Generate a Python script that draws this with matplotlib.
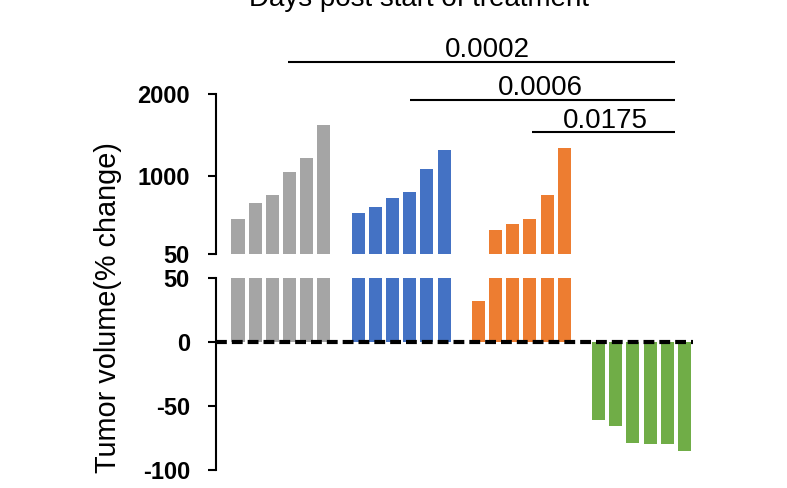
import matplotlib
matplotlib.use("Agg")
import matplotlib.pyplot as plt

plt.rcParams['font.family'] = ['Liberation Sans', 'DejaVu Sans']

# ---- data ----
gray_vals = [476, 675, 765, 1049, 1216, 1626]
blue_vals = [546, 619, 732, 802, 1086, 1321]
orange_vals = [32, 346, 419, 476, 769, 1342]
green_vals = [-61, -66, -79, -80, -80, -85]
group_colors = ['#A5A5A5', '#4472C4', '#ED7D31', '#70AD47']
top_ticks = [50, 1000, 2000]
bottom_ticks = [-100, -50, 0, 50]
p_labels = ['0.0002', '0.0006', '0.0175']

groups = [gray_vals, blue_vals, orange_vals, green_vals]
group_offsets = [0, 7, 14, 21]
BREAK = 50

W, H = 787, 488
fig = plt.figure(figsize=(W / 100, H / 100), dpi=100)


def rect(x0, y0, x1, y1):
    return [x0 / W, 1 - y1 / H, (x1 - x0) / W, (y1 - y0) / H]


ax_top = fig.add_axes(rect(216, 94, 693, 254))
ax_bot = fig.add_axes(rect(216, 278, 693, 470))

bw = 0.76
for vals, off, col in zip(groups, group_offsets, group_colors):
    xs = [off + i for i in range(len(vals))]
    # bottom panel: clipped at the break
    ax_bot.bar(xs, [min(v, BREAK) for v in vals], width=bw, color=col, zorder=2)
    # top panel: portion above the break
    tx = [x for x, v in zip(xs, vals) if v > BREAK]
    tv = [v - BREAK for v in vals if v > BREAK]
    if tx:
        ax_top.bar(tx, tv, bottom=BREAK, width=bw, color=col, zorder=2)

xlim = (-1.28, 26.5)
for ax in (ax_top, ax_bot):
    ax.set_xlim(*xlim)
    for s in ('top', 'right', 'bottom'):
        ax.spines[s].set_visible(False)
    ax.spines['left'].set_linewidth(1.5)
    ax.set_xticks([])
    ax.tick_params(axis='y', direction='out', length=5.8, width=1.5, pad=13.0)

ax_top.set_ylim(50, 2000)
ax_top.set_yticks(top_ticks)
ax_top.set_yticklabels([str(t) for t in top_ticks], fontweight='bold', fontsize=17)
ax_bot.set_ylim(-100, 50)
ax_bot.set_yticks(bottom_ticks)
ax_bot.set_yticklabels([str(t) for t in bottom_ticks], fontweight='bold', fontsize=17)

ax_bot.axhline(0, color='black', lw=3, dashes=(2.6, 1.2), zorder=3)

# significance brackets
brackets = [(2.9, 25.45, 2390, 14.5, 2455),
            (10.0, 25.45, 1927, 17.6, 1988),
            (17.1, 25.45, 1537, 21.4, 1582)]
for (x0, x1, y, tx, ty), lab in zip(brackets, p_labels):
    ax_top.plot([x0, x1], [y, y], color='black', lw=1.5, clip_on=False,
                solid_capstyle='butt')
    ax_top.text(tx, ty, lab, ha='center', va='baseline', fontsize=20,
                clip_on=False)

fig.text(419 / W, 1 - 6 / H, 'Days post start of treatment', ha='center',
         va='baseline', fontsize=20)
fig.text(108 / W, 1 - 308 / H, 'Tumor volume(% change)', rotation=90,
         ha='center', va='center', fontsize=20.8)

fig.savefig('out.png', dpi=100)
